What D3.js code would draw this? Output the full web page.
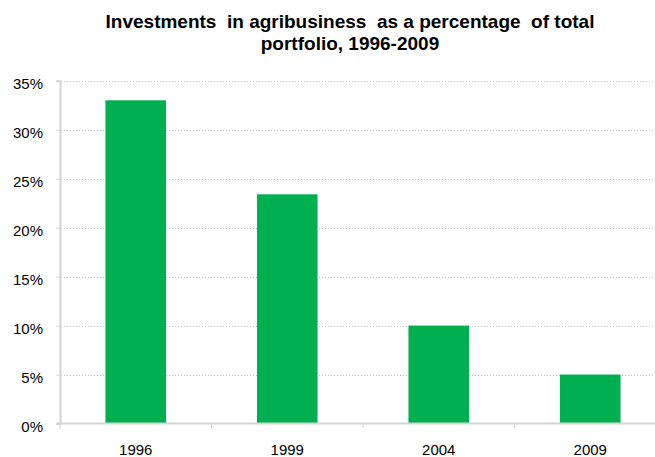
<!DOCTYPE html>
<html>
<head>
<meta charset="utf-8">
<script src="https://cdn.jsdelivr.net/npm/d3@7"></script>
<style>
  body { margin: 0; background: #fff; }
  svg { display: block; font-family: "Liberation Sans", Arial, sans-serif; }
</style>
</head>
<body>
<div id="chart"></div>
<script>
var years = ["1996", "1999", "2004", "2009"];
var shares = [0.33, 0.234, 0.10, 0.05];
var yTicks = [0, 0.05, 0.10, 0.15, 0.20, 0.25, 0.30, 0.35];
var titleLines = ["Investments  in agribusiness  as a percentage  of total", "portfolio, 1996-2009"];

var width = 655,
  height = 457;

var svg = d3.select("#chart")
  .append("svg")
  .attr("width", width)
  .attr("height", height);

var x = d3.scaleBand()
  .domain(years)
  .range([60, 666])
  .paddingInner(0.6)
  .paddingOuter(0.3);

var y = d3.scaleLinear()
  .domain([0, 0.35])
  .range([423.5, 80.7]);

var fmt = d3.format(".0%");

// title
svg.append("text")
  .attr("text-anchor", "middle")
  .attr("font-weight", "bold")
  .attr("font-size", 19)
  .attr("fill", "#000")
  .style("white-space", "pre")
  .selectAll("tspan")
  .data(titleLines)
  .enter()
  .append("tspan")
  .attr("x", 350)
  .attr("y", function(d, i) { return 28 + i * 22; })
  .text(function(d) { return d; });

// gridlines
svg.append("g")
  .selectAll("line")
  .data(yTicks.slice(1))
  .enter()
  .append("line")
  .attr("x1", 61)
  .attr("x2", width)
  .attr("y1", function(d) { return Math.round(y(d)) + 0.5; })
  .attr("y2", function(d) { return Math.round(y(d)) + 0.5; })
  .attr("stroke", "#c6c6c6")
  .attr("stroke-dasharray", "1,2");

// bars
svg.append("g")
  .selectAll("rect")
  .data(shares)
  .enter()
  .append("rect")
  .attr("x", function(d, i) { return x(years[i]); })
  .attr("width", x.bandwidth())
  .attr("y", function(d) { return y(d); })
  .attr("height", function(d) { return y(0) - y(d); })
  .attr("fill", "#00b050");

// y axis
var yAxis = svg.append("g")
  .attr("transform", "translate(60,0)")
  .call(d3.axisLeft(y).tickValues(yTicks).tickFormat(fmt).tickSize(4).tickPadding(13));
yAxis.select(".domain").attr("stroke", "#d4d4d4").attr("stroke-width", 2);
yAxis.selectAll(".tick line").attr("stroke", "#d4d4d4");
yAxis.selectAll(".tick text")
  .attr("font-size", 15)
  .attr("dy", "0.5em")
  .attr("font-family", "Liberation Sans, Arial, sans-serif")
  .attr("fill", "#000");

// x axis
var xAxis = svg.append("g")
  .attr("transform", "translate(0," + y(0) + ")")
  .call(d3.axisBottom(x).tickSize(0).tickPadding(21));
xAxis.select(".domain").remove();
xAxis.append("line")
  .attr("x1", 56)
  .attr("x2", width)
  .attr("stroke", "#d4d4d4")
  .attr("stroke-width", 2);
xAxis.selectAll(".tick text")
  .attr("font-size", 15)
  .attr("font-family", "Liberation Sans, Arial, sans-serif")
  .attr("fill", "#000");

// category separators
xAxis.selectAll(".sep")
  .data(years)
  .enter()
  .append("line")
  .attr("x1", function(d) { return x(d) - x.step() * x.paddingInner() / 2; })
  .attr("x2", function(d) { return x(d) - x.step() * x.paddingInner() / 2; })
  .attr("y1", 0)
  .attr("y2", 5)
  .attr("stroke", "#d4d4d4");
</script>
</body>
</html>
